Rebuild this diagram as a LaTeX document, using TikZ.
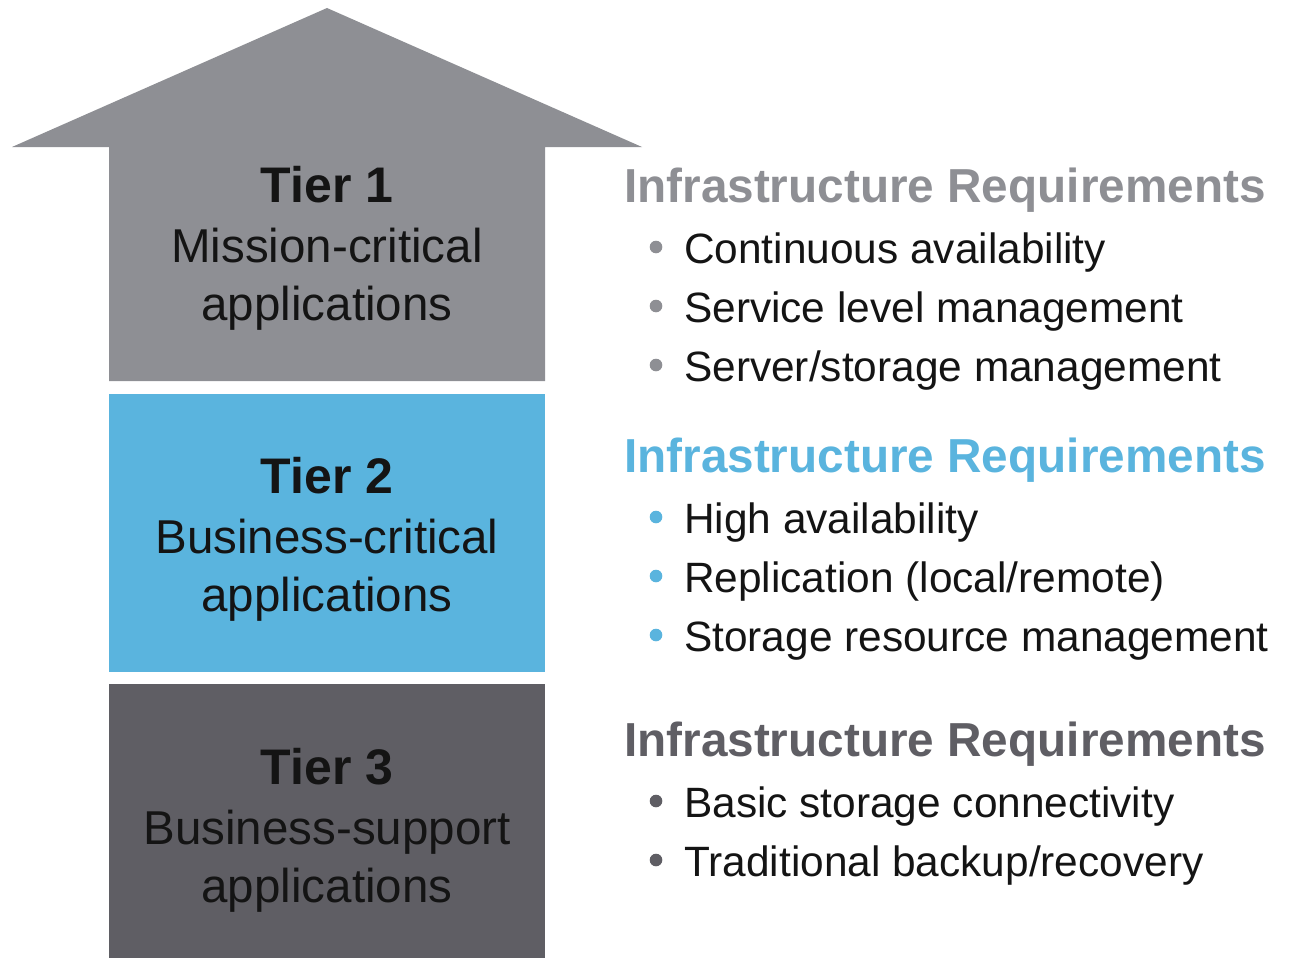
\documentclass[tikz,border=0pt]{standalone}
\usepackage{fontspec}
\setmainfont{Liberation Sans}
\definecolor{tiergray}{HTML}{8E8F94}
\definecolor{tierblue}{HTML}{5AB4DE}
\definecolor{tierdark}{HTML}{5F5E64}
\definecolor{ink}{HTML}{141414}
\tikzset{
  tiertitle/.style={anchor=base, inner sep=0, text=ink, font=\fontsize{50}{60}\selectfont\bfseries},
  tiertext/.style={anchor=base, inner sep=0, text=ink, font=\fontsize{47.5}{57}\selectfont},
  reqhead/.style={anchor=base west, inner sep=0, font=\fontsize{47.7}{57}\selectfont\bfseries},
  reqitem/.style={anchor=base west, inner sep=0, text=ink, font=\fontsize{42.4}{51}\selectfont},
}
\newcommand{\dotitem}[2]{\fill[#1] ([xshift=-28pt,yshift=16pt]#2.base west) circle (6.3pt);}
\begin{document}
\begin{tikzpicture}[x=1pt, y=-1pt]
    \useasboundingbox (0,0) rectangle (1289,958);

    % the three tiers
    \fill[tiergray] (109,381) -- (109,147) -- (12,147) -- (327,8) -- (642,147) -- (545,147) -- (545,381) -- cycle;
    \fill[tierblue] (109,394) rectangle (545,672);
    \fill[tierdark] (109,684) rectangle (545,958);

    \node[tiertitle] (t1) at (327,202) {Tier 1};
    \node[tiertext] (t1a) at (327,262) {Mission-critical};
    \node[tiertext] (t1b) at (327,320) {applications};

    \node[tiertitle] (t2) at (327,493) {Tier 2};
    \node[tiertext] (t2a) at (327,553) {Business-critical};
    \node[tiertext] (t2b) at (327,611) {applications};

    \node[tiertitle] (t3) at (327,784) {Tier 3};
    \node[tiertext] (t3a) at (327,844) {Business-support};
    \node[tiertext] (t3b) at (327,902) {applications};

    % requirements
    \node[reqhead, text=tiergray] (h1) at (624,202) {Infrastructure Requirements};
    \node[reqitem] (r1a) at (684,263) {Continuous availability};
    \node[reqitem] (r1b) at (684,322) {Service level management};
    \node[reqitem] (r1c) at (684,381) {Server/storage management};
    \dotitem{tiergray}{r1a}
    \dotitem{tiergray}{r1b}
    \dotitem{tiergray}{r1c}

    \node[reqhead, text=tierblue] (h2) at (624,472) {Infrastructure Requirements};
    \node[reqitem] (r2a) at (684,533) {High availability};
    \node[reqitem] (r2b) at (684,592) {Replication (local/remote)};
    \node[reqitem] (r2c) at (684,651) {Storage resource management};
    \dotitem{tierblue}{r2a}
    \dotitem{tierblue}{r2b}
    \dotitem{tierblue}{r2c}

    \node[reqhead, text=tierdark] (h3) at (624,756) {Infrastructure Requirements};
    \node[reqitem] (r3a) at (684,817) {Basic storage connectivity};
    \node[reqitem] (r3b) at (684,876) {Traditional backup/recovery};
    \dotitem{tierdark}{r3a}
    \dotitem{tierdark}{r3b}
\end{tikzpicture}
\end{document}
